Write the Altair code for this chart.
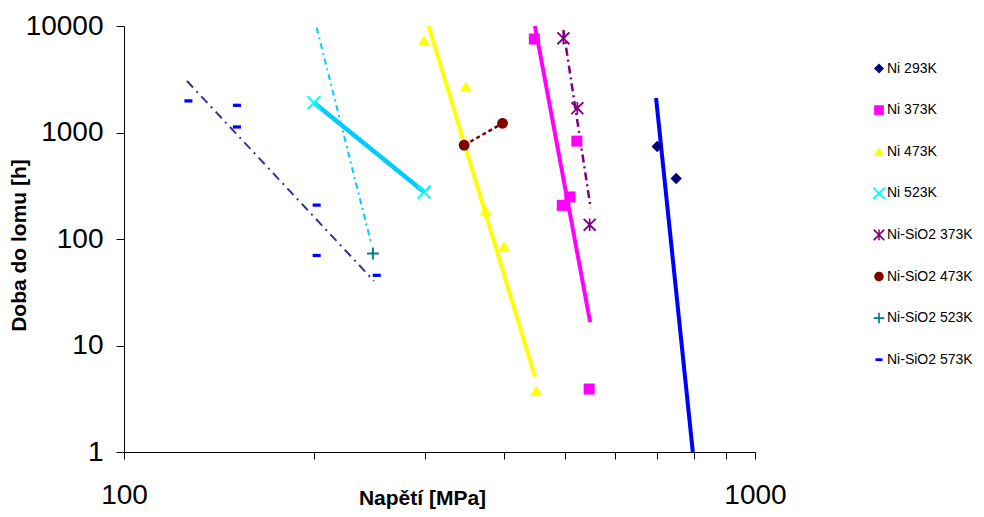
import altair as alt
import pandas as pd

# ---------------- data ----------------
series_names = ["Ni 293K", "Ni 373K", "Ni 473K", "Ni 523K",
                "Ni-SiO2 373K", "Ni-SiO2 473K", "Ni-SiO2 523K", "Ni-SiO2 573K"]

ni293_stress = [700, 750]
ni293_time = [740, 370]
ni373_stress = [447, 522, 509, 495, 546]
ni373_time = [7550, 830, 248, 207, 3.9]
ni473_stress = [299, 348, 374, 400, 450]
ni473_time = [7300, 2690, 185, 85, 3.75]
ni523_stress = [200, 299]
ni523_time = [1900, 276]
sio373_stress = [497, 523, 547]
sio373_time = [7670, 1690, 136]
sio473_stress = [346, 398]
sio473_time = [760, 1220]
sio523_stress = [248]
sio523_time = [73]
sio573_stress = [126.5, 151, 151, 202, 202, 251.5]
sio573_time = [1980, 1800, 1127, 208, 70, 45.6]

# trend lines (end points)
trend_names = ["t293", "t373", "t473", "t523", "tsio523", "tsio373", "tsio473", "tsio573"]
trend_stress = [[697, 797], [448, 548], [304, 448], [200, 299],
                [202, 246], [497, 549], [346, 398], [125.8, 249]]
trend_time = [[2110, 1], [10000, 16.6], [10000, 5.1], [1900, 276],
              [9640, 95], [9170, 195], [760, 1220], [3046, 40.3]]

x_ticks = [100, 200, 300, 400, 500, 600, 700, 800, 900, 1000]
y_ticks = [1, 10, 100, 1000, 10000]

# ---------------- build tables ----------------
all_stress = [ni293_stress, ni373_stress, ni473_stress, ni523_stress,
              sio373_stress, sio473_stress, sio523_stress, sio573_stress]
all_time = [ni293_time, ni373_time, ni473_time, ni523_time,
            sio373_time, sio473_time, sio523_time, sio573_time]
rows = []
for name, xs, ys in zip(series_names, all_stress, all_time):
    for xv, yv in zip(xs, ys):
        rows.append({"series": name, "stress": xv, "time": yv})
points = pd.DataFrame(rows)

# ---------------- styles ----------------
FONT = "Liberation Sans"
colors = ["#000080", "#FF00FF", "#FFFF00", "#00FFFF",
          "#800080", "#800000", "#008080", "#0000FF"]
shapes = [
    "M0,-0.88L0.88,0L0,0.88L-0.88,0Z",
    "M-0.85,-0.85L0.85,-0.85L0.85,0.85L-0.85,0.85Z",
    "M0,-0.8L0.92,0.75L-0.92,0.75Z",
    "M-0.89,-1.11L1.11,0.89L0.89,1.11L-1.11,-0.89Z M-0.89,1.11L-1.11,0.89L0.89,-1.11L1.11,-0.89Z",
    "M-0.82,-1.02L1.02,0.82L0.82,1.02L-1.02,-0.82Z M-0.82,1.02L-1.02,0.82L0.82,-1.02L1.02,-0.82Z M-0.13,-0.95L0.13,-0.95L0.13,0.95L-0.13,0.95Z",
    "M-0.83,0A0.83,0.83 0 1,0 0.83,0A0.83,0.83 0 1,0 -0.83,0Z",
    "M-0.15,-0.92L0.15,-0.92L0.15,0.92L-0.15,0.92Z M0.92,-0.15L0.92,0.15L-0.92,0.15L-0.92,-0.15Z",
    "M-0.62,-0.25L0.62,-0.25L0.62,0.25L-0.62,0.25Z",
]
trend_styles = [
    dict(color="#0000FF", strokeWidth=4),
    dict(color="#FF00FF", strokeWidth=4),
    dict(color="#FFFF00", strokeWidth=4),
    dict(color="#00CCFF", strokeWidth=4.5),
    dict(color="#00CCFF", strokeWidth=2, strokeDash=[6, 4, 2, 4]),
    dict(color="#800080", strokeWidth=2.5, strokeDash=[8, 4, 2, 4]),
    dict(color="#800000", strokeWidth=2.5, strokeDash=[4, 3]),
    dict(color="#333399", strokeWidth=2, strokeDash=[9, 5, 2, 5]),
]

x_scale = alt.Scale(type="log", domain=[100, 1000], nice=False)
y_scale = alt.Scale(type="log", domain=[1, 10000], nice=False)

x_axis = alt.Axis(
    values=x_ticks, grid=False,
    labelExpr="(datum.value == 100 || datum.value == 1000) ? format(datum.value, 'd') : ''",
    labelFont=FONT, labelFontSize=28, labelColor="black", labelPadding=22,
    labelFlush=False, labelOverlap=False,
    tickSize=7, tickColor="black", domainColor="black",
    title="Napětí [MPa]", titleFont=FONT, titleFontSize=21, titleFontWeight="bold",
    titleColor="black", titleX=298, titleY=52, titleBaseline="alphabetic", titleAlign="center",
)
y_axis = alt.Axis(
    values=y_ticks, grid=False, format="d",
    labelFont=FONT, labelFontSize=28, labelColor="black", labelPadding=13,
    labelFlush=False, labelOverlap=False,
    tickSize=8, tickColor="black", domainColor="black",
    title="Doba do lomu [h]", titleFont=FONT, titleFontSize=21, titleFontWeight="bold",
    titleColor="black", titleAngle=270, titleX=-99, titleY=219,
    titleBaseline="alphabetic", titleAlign="center",
)

x_enc = alt.X("stress:Q", scale=x_scale, axis=x_axis)
y_enc = alt.Y("time:Q", scale=y_scale, axis=y_axis)

layers = []
for name, xs, ys, style in zip(trend_names, trend_stress, trend_time, trend_styles):
    df = pd.DataFrame({"stress": xs, "time": ys})
    layers.append(alt.Chart(df).mark_line(**style).encode(x=x_enc, y=y_enc))

legend = alt.Legend(
    title=None, orient="none", legendX=748, legendY=35.5,
    labelFont=FONT, labelFontSize=14, labelColor="black", labelOffset=1,
    labelLimit=200,
    symbolSize=130, symbolStrokeWidth=0, rowPadding=27.6, padding=0,
)

pts = alt.Chart(points).mark_point(filled=True, opacity=1, strokeWidth=0, size=169).encode(
    x=x_enc, y=y_enc,
    color=alt.Color("series:N", scale=alt.Scale(domain=series_names, range=colors), legend=legend),
    shape=alt.Shape("series:N", scale=alt.Scale(domain=series_names, range=shapes), legend=legend),
)
layers.append(pts)

chart = alt.layer(*layers).properties(
    width=631, height=426,
    autosize=alt.AutoSizeParams(type="none"),
    padding={"left": 116, "top": 18, "right": 221, "bottom": 57},
    background="white",
).configure_view(stroke=None)

chart.save("out.html", embed_options={"renderer": "svg", "actions": False})
